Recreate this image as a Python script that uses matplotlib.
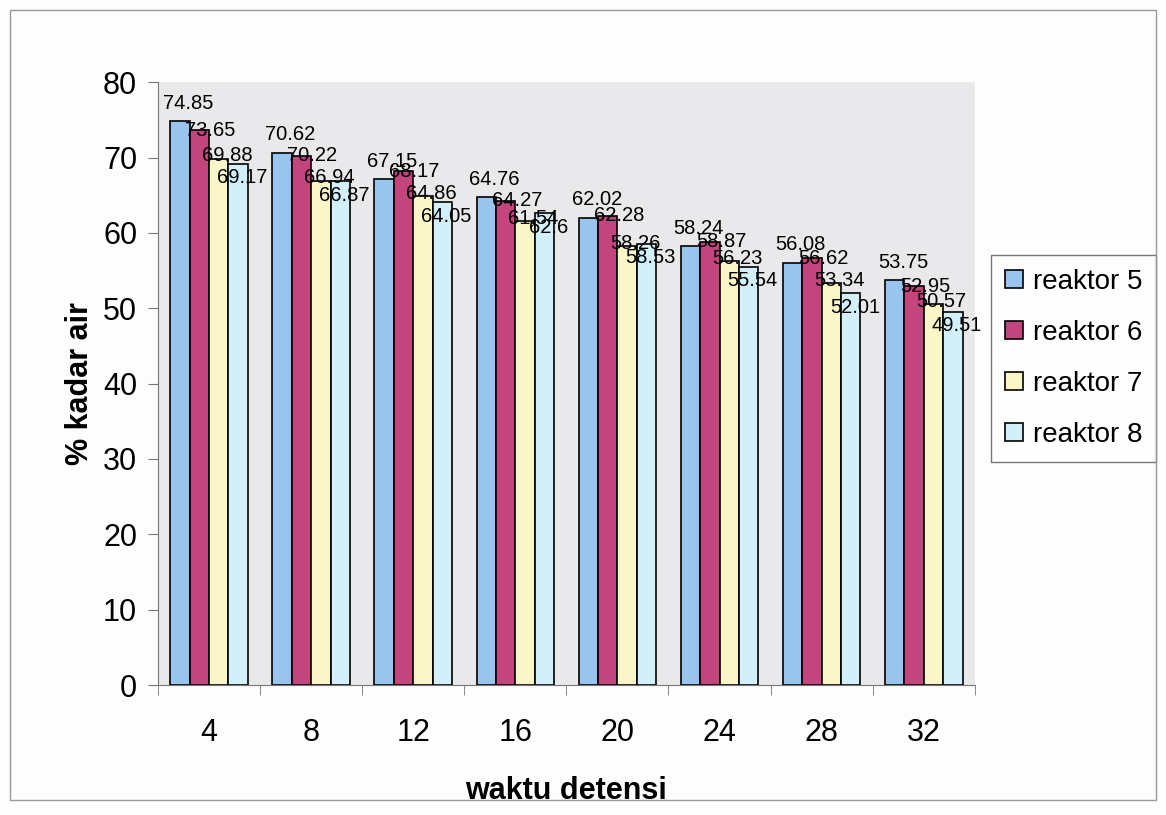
import numpy as np
import matplotlib
matplotlib.use("Agg")
import matplotlib.pyplot as plt
from matplotlib.patches import Rectangle

plt.rcParams['font.family'] = ['Liberation Sans', 'DejaVu Sans']

# waktu detensi (hari) dan % kadar air tiap reaktor
waktu = [4, 8, 12, 16, 20, 24, 28, 32]
reaktor5 = [74.85, 70.62, 67.15, 64.76, 62.02, 58.24, 56.08, 53.75]
reaktor6 = [73.65, 70.22, 68.17, 64.27, 62.28, 58.87, 56.62, 52.95]
reaktor7 = [69.88, 66.94, 64.86, 61.54, 58.26, 56.23, 53.34, 50.57]
reaktor8 = [69.17, 66.87, 64.05, 62.6, 58.53, 55.54, 52.01, 49.51]

series = [reaktor5, reaktor6, reaktor7, reaktor8]
names = ["reaktor 5", "reaktor 6", "reaktor 7", "reaktor 8"]
colors = ["#99c4ee", "#c2457e", "#fbf6c8", "#d2f0fa"]
# label offsets (points) so the four labels of a group stagger downwards
offsets = [(6, 13), (8, 0), (6, 2), (3, -10)]

fig = plt.figure(figsize=(11.66, 8.15), dpi=100)
fig.patch.set_facecolor("#fdfdfd")
# chart frame
fig.add_artist(Rectangle((0.009, 0.018), 0.982, 0.97, transform=fig.transFigure,
                         fill=False, edgecolor="#9a9a9a", linewidth=1))

ax = fig.add_axes([0.1355, 0.1595, 0.7005, 0.7395])
ax.set_facecolor("#e9e9eb")

x = np.arange(len(waktu))
w = 0.19
for i, (vals, name, c) in enumerate(zip(series, names, colors)):
    pos = x + (i - 1.5) * w
    ax.bar(pos, vals, w, color=c, edgecolor="black", linewidth=1.2, label=name)
    for px, v in zip(pos, vals):
        ax.annotate(f"{v:g}", (px, v), xytext=offsets[i], textcoords="offset points",
                    ha="center", va="center", fontsize=14.5)

ax.set_xlim(-0.5, len(waktu) - 0.5)
ax.set_ylim(0, 80)
ax.set_yticks(range(0, 81, 10))
ax.set_xticks(x)
ax.set_xticklabels([str(t) for t in waktu])
ax.set_xticks(np.arange(-0.5, len(waktu), 1), minor=True)
ax.tick_params(axis="x", which="major", length=0, labelsize=22, pad=24)
ax.tick_params(axis="x", which="minor", length=7, color="#777777")
ax.tick_params(axis="y", labelsize=22, length=7, color="#777777", pad=8)

for s in ["top", "right"]:
    ax.spines[s].set_visible(False)
ax.spines["left"].set_color("#777777")
ax.spines["bottom"].set_color("#777777")

ax.set_xlabel("waktu detensi", fontsize=22, fontweight="bold", labelpad=20)
ax.set_ylabel("% kadar air", fontsize=22, fontweight="bold", labelpad=6)

leg = ax.legend(loc="center left", bbox_to_anchor=(1.02, 0.542), fontsize=20,
                frameon=True, fancybox=False, edgecolor="#555555",
                handlelength=0.65, handleheight=0.65, handletextpad=0.35,
                labelspacing=0.9, borderpad=0.5, borderaxespad=0)
leg.get_frame().set_linewidth(1.0)

fig.savefig("out.png", dpi=100)
